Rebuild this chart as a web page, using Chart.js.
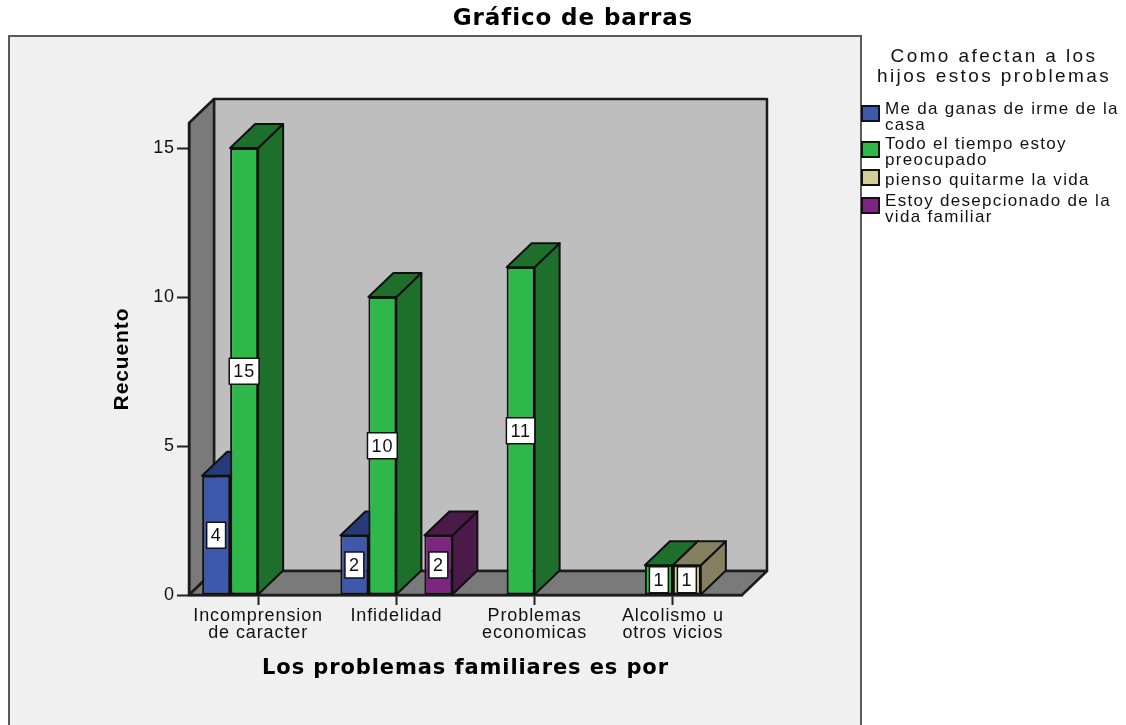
<!DOCTYPE html>
<html>
<head>
<meta charset="utf-8">
<title>Gráfico de barras</title>
<script src="https://cdn.jsdelivr.net/npm/chart.js@4/dist/chart.umd.js"></script>
<style>
    html, body { margin: 0; padding: 0; background: #fff; overflow: hidden; }
    #wrap { position: relative; width: 1126px; height: 725px; }
    #chart { filter: blur(0.4px); }
</style>
</head>
<body>
<div id="wrap"><canvas id="chart"></canvas></div>
<script>
// DATA
const categories = [['Incomprension', 'de caracter'], 'Infidelidad', ['Problemas', 'economicas'], ['Alcolismo u', 'otros vicios']];
const seriesNames = [
    ['Me da ganas de irme de la', 'casa'],
    ['Todo el tiempo estoy', 'preocupado'],
    ['pienso quitarme la vida'],
    ['Estoy desepcionado de la', 'vida familiar']
];
const meDaGanas = [4, 2, null, null];
const todoElTiempo = [15, 10, 11, 1];
const piensoQuitarme = [null, null, null, 1];
const estoyDesepcionado = [null, 2, null, null];
const yTicks = [0, 5, 10, 15];
const yMax = 15.84;
const chartTitle = 'Gráfico de barras';
const xTitle = 'Los problemas familiares es por';
const yTitle = 'Recuento';
const legendTitle = ['Como afectan a los', 'hijos estos problemas'];

// STYLE
const frontColors = ['#3E58AC', '#2EB84A', '#D3CE97', '#7D2680'];
const darkColors = ['#263B78', '#1E6F2C', '#85805F', '#4A1A49'];
const lineColor = '#111';
const depth = 25;
const sans = '"Liberation Sans", Arial, sans-serif';
const wide = '"DejaVu Sans", sans-serif';

function poly(ctx, points, fill) {
    ctx.beginPath();
    points.forEach((p, i) => i ? ctx.lineTo(p[0], p[1]) : ctx.moveTo(p[0], p[1]));
    ctx.closePath();
    ctx.fillStyle = fill;
    ctx.fill();
    ctx.stroke();
}

// panel, walls and floor behind the bars
const backdrop = {
    id: 'backdrop',
    beforeDraw(chart) {
        const ctx = chart.ctx;
        const { left, right, top, bottom } = chart.chartArea;
        ctx.letterSpacing = '0.9px';

        ctx.save();
        ctx.fillStyle = '#F0F0F0';
        ctx.strokeStyle = '#5a5a5a';
        ctx.lineWidth = 2;
        ctx.fillRect(9, 36, 852, 700);
        ctx.strokeRect(9, 36, 852, 700);

        ctx.strokeStyle = '#1c1c1c';
        ctx.lineWidth = 2.5;
        ctx.lineJoin = 'round';
        poly(ctx, [[left + depth, top - 24], [right + depth, top - 24], [right + depth, bottom - 24], [left + depth, bottom - 24]], '#BEBEBE');
        poly(ctx, [[left, bottom], [left, top], [left + depth, top - 24], [left + depth, bottom - 24]], '#7A7A7A');
        poly(ctx, [[left, bottom], [right, bottom], [right + depth, bottom - 24], [left + depth, bottom - 24]], '#7A7A7A');
        ctx.restore();
    }
};

// bars painted left to right so each front hides the side of its neighbour
const bars3d = {
    id: 'bars3d',
    beforeDatasetsDraw(chart) {
        const ctx = chart.ctx;
        ctx.save();
        ctx.strokeStyle = lineColor;
        ctx.lineJoin = 'round';
        chart.data.labels.forEach((_, i) => {
            chart.data.datasets.forEach((ds, d) => {
                if (ds.data[i] == null) return;
                const bar = chart.getDatasetMeta(d).data[i];
                const x0 = bar.x - bar.width / 2, x1 = bar.x + bar.width / 2;
                const y0 = bar.y, y1 = bar.base;
                ctx.lineWidth = 2;
                poly(ctx, [[x1, y1], [x1, y0], [x1 + depth, y0 - 24], [x1 + depth, y1 - 24]], darkColors[d]);
                poly(ctx, [[x0, y0], [x1, y0], [x1 + depth, y0 - 24], [x0 + depth, y0 - 24]], darkColors[d]);
                bar.draw(ctx);
            });
        });

        // value boxes on top of everything
        ctx.font = '18px ' + sans;
        ctx.textAlign = 'center';
        ctx.textBaseline = 'middle';
        chart.data.datasets.forEach((ds, d) => {
            ds.data.forEach((v, i) => {
                if (v == null) return;
                const bar = chart.getDatasetMeta(d).data[i];
                const w = ctx.measureText(String(v)).width + 8;
                const cy = (bar.y + bar.base) / 2;
                ctx.fillStyle = '#fff';
                ctx.lineWidth = 1.5;
                ctx.fillRect(bar.x - w / 2, cy - 13, w, 26);
                ctx.strokeRect(bar.x - w / 2, cy - 13, w, 26);
                ctx.fillStyle = '#111';
                ctx.fillText(String(v), bar.x, cy + 1);
            });
        });
        ctx.restore();
        return false;
    }
};

// title centred over the whole picture, legend beside the panel
const legendBox = {
    id: 'legendBox',
    afterLayout(chart) {
        chart.titleBlock.left = 20;
        chart.titleBlock.right = 1126;
    },
    afterDraw(chart) {
        const ctx = chart.ctx;
        ctx.save();
        ctx.fillStyle = '#111';
        ctx.textBaseline = 'middle';

        ctx.font = '19px ' + sans;
        ctx.letterSpacing = '2.4px';
        ctx.textAlign = 'center';
        legendTitle.forEach((line, i) => ctx.fillText(line, 994, 57 + i * 20));

        const swatchY = [106, 142, 170, 198];
        const textY = [109, 144, 180, 201];
        ctx.textAlign = 'left';
        ctx.font = '17px ' + sans;
        ctx.letterSpacing = '1.3px';
        seriesNames.forEach((lines, d) => {
            ctx.fillStyle = frontColors[d];
            ctx.strokeStyle = lineColor;
            ctx.lineWidth = 2;
            ctx.fillRect(862, swatchY[d], 17, 15);
            ctx.strokeRect(862, swatchY[d], 17, 15);
            ctx.fillStyle = '#111';
            lines.forEach((line, i) => ctx.fillText(line, 885, textY[d] + i * 16));
        });
        ctx.restore();
    }
};

const datasetValues = [meDaGanas, todoElTiempo, piensoQuitarme, estoyDesepcionado];

new Chart(document.getElementById('chart'), {
    type: 'bar',
    data: {
        labels: categories,
        datasets: datasetValues.map((values, d) => ({
            label: seriesNames[d].join(' '),
            data: values,
            backgroundColor: frontColors[d],
            borderColor: lineColor,
            borderWidth: 2,
            borderSkipped: false,
            barPercentage: 1,
            categoryPercentage: 0.81
        }))
    },
    options: {
        responsive: true,
        maintainAspectRatio: false,
        animation: false,
        layout: { padding: { left: 20, right: 384, top: 0, bottom: 0 } },
        scales: {
            x: {
                grid: { offset: false, drawOnChartArea: false, tickLength: 10, tickColor: '#222', tickWidth: 2 },
                border: { color: '#1c1c1c', width: 2.5 },
                ticks: {
                    autoSkip: false, maxRotation: 0, minRotation: 0, padding: 3,
                    color: '#111',
                    font: { family: sans, size: 18, lineHeight: 0.94 }
                },
                title: {
                    display: true, text: xTitle, color: '#000',
                    font: { family: wide, size: 21, weight: 'bold', lineHeight: 1.2 },
                    padding: { top: 0, bottom: 44 }
                },
                afterFit(scale) { scale.height = 130; }
            },
            y: {
                min: 0,
                max: yMax,
                afterBuildTicks(scale) { scale.ticks = yTicks.map(v => ({ value: v })); },
                grid: { drawOnChartArea: false, tickLength: 12, tickColor: '#222', tickWidth: 2 },
                border: { color: '#1c1c1c', width: 2.5 },
                ticks: {
                    padding: 2, color: '#111',
                    font: { family: sans, size: 18 }
                },
                title: {
                    display: true, text: yTitle, color: '#000',
                    font: { family: sans, size: 21, weight: 'bold', lineHeight: 1.2 },
                    padding: { top: 90, bottom: 0 }
                },
                afterFit(scale) { scale.width = 169; }
            }
        },
        plugins: {
            legend: { display: false },
            tooltip: { enabled: false },
            title: {
                display: true, text: chartTitle, color: '#000',
                font: { family: wide, size: 23, weight: 'bold', lineHeight: 1.2 },
                padding: { top: 5, bottom: 90.4 }
            }
        }
    },
    plugins: [backdrop, bars3d, legendBox]
});
</script>
</body>
</html>
